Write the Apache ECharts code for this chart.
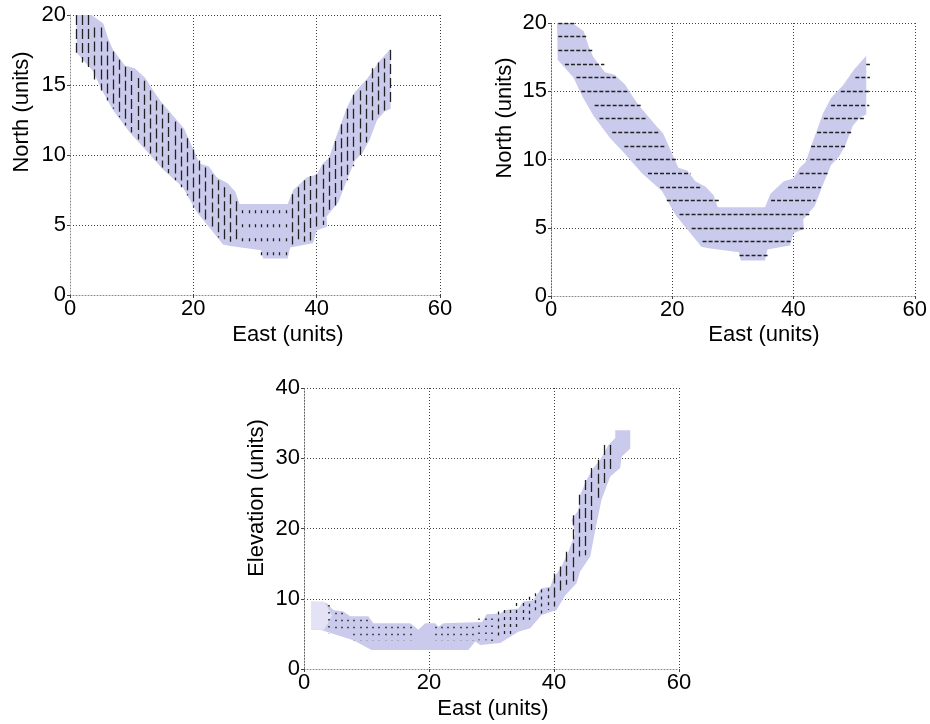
<!DOCTYPE html>
<html><head><meta charset="utf-8">
<script src="https://cdn.jsdelivr.net/npm/echarts@6/dist/echarts.min.js"></script>
<style>html,body{margin:0;padding:0;background:#fff}#c{width:930px;height:724px}</style>
</head><body><div id="c"></div>
<script>
// ---------- axis ticks ----------
const eastTicks = [0, 20, 40, 60];
const northTicks = [0, 5, 10, 15, 20];
const elevTicks = [0, 10, 20, 30, 40];

// ---------- plan-view band (East / North), same footprint in both top panels ----------
const planBandX = [1, 3.5, 5.4, 6.2, 7, 8.9, 10.5, 12.2, 13.5, 14.6, 17.3, 18.5, 20, 21, 22.5, 23.8, 25.5, 26.8, 27.5, 35.3, 36.2, 38.4, 40, 41, 42, 43, 44, 44.9, 46.2, 48.1, 50, 52,
  52, 51, 49.8, 48.6, 47.5, 46.2, 44.9, 43.5, 41.6, 41.7, 40, 39.4, 35.7, 35.3, 31.3, 31, 26, 24.8, 23, 20.6, 18.3, 15, 12.2, 9.7, 7, 5.2, 3.7, 1.1];
const planBandY = [20, 20, 19.4, 18.3, 17.5, 16.4, 16.2, 15.5, 14.6, 13.9, 12.5, 11.9, 10.4, 9.4, 9.2, 8.4, 8.0, 7.4, 6.5, 6.5, 7.5, 8.4, 8.6, 9.4, 9.8, 11.1, 12.3, 13.4, 14.5, 15.4, 16.6, 17.6,
  13.3, 13.1, 12.5, 11.1, 10.2, 9.6, 8.2, 6.6, 5.6, 4.9, 4.6, 3.7, 3.4, 2.6, 2.6, 3.2, 3.5, 3.6, 4.6, 5.9, 7.7, 9.0, 10.4, 11.6, 13.2, 14.6, 16, 17.3];

// ---------- top-left: vertical dashed strokes per East column ----------
const tlDashX  = [1, 2, 3, 4, 5, 6, 7, 8, 9, 10, 11, 12, 13, 14, 15, 16, 17, 18, 19, 20, 21, 22, 23, 24, 25, 26, 27, 36, 37, 38, 39, 40, 41, 42, 43, 44, 45, 46, 47, 48, 49, 50, 51, 52];
const tlDashLo = [17.3, 16.6, 16.1, 15.4, 14.6, 13.9, 13.3, 12.7, 12.1, 11.6, 11.1, 10.6, 10.1, 9.6, 9.1, 8.7, 8.2, 7.7, 7.1, 6.3, 5.7, 5.1, 4.6, 4.1, 3.8, 3.8, 3.8, 3.6, 3.7, 3.8, 3.9, 4.7, 5.0, 6.0, 6.4, 7.2, 8.2, 9.2, 10.0, 10.9, 12.2, 12.7, 13.1, 13.6];
const tlDashHi = [20, 20, 20, 19.1, 19.1, 18.1, 17.4, 16.8, 16.3, 16.0, 15.5, 15.3, 14.6, 13.9, 13.6, 13.0, 12.4, 11.9, 11.2, 10.4, 9.6, 9.1, 8.6, 8.2, 7.7, 7.2, 6.7, 7.2, 7.7, 8.2, 8.5, 8.6, 9.3, 9.8, 11.0, 12.2, 13.3, 14.3, 14.6, 15.3, 16.2, 16.6, 16.9, 17.5];
// valley columns seen end-on (dots)
const tlDotX  = [28, 29, 30, 31, 32, 33, 34, 35];
const tlDotLo = [3.4, 3.3, 3.3, 2.7, 2.7, 2.7, 2.7, 2.7];
const tlDotHi = [6.05, 6.05, 6.05, 6.05, 6.05, 6.05, 6.05, 6.05];

// ---------- top-right: horizontal dashed strokes per North row ----------
const trRowY  = [20, 19, 18, 17, 16, 15, 14, 13, 12, 11, 10, 9, 8, 7, 6, 5, 4, 3, 7, 8, 9, 10, 11, 12, 13, 14, 15, 16, 17];
const trRowX0 = [1.2, 1.2, 1.2, 2.3, 4.2, 5.0, 7.2, 8.0, 10.1, 12.1, 14.0, 16.0, 18.0, 19.1, 21.2, 23.2, 25.0, 31.1, 36.3, 39.1, 41.0, 42.8, 42.9, 43.9, 45.0, 46.2, 47.8, 50.2, 52.0];
const trRowX1 = [3.9, 5.8, 6.8, 8.8, 10.7, 12.8, 14.8, 15.8, 17.8, 18.8, 20.9, 23.0, 24.9, 28.0, 42.6, 41.9, 39.8, 35.9, 43.6, 44.5, 45.6, 46.7, 48.6, 49.6, 51.6, 52.5, 52.5, 52.6, 52.6];

// ---------- bottom: elevation profile band ----------
const elevBandX = [1.2, 3.6, 4.7, 6.3, 7.4, 10.3, 11.1, 17, 18.3, 19.4, 21, 21.5, 22.3, 28.5, 29.2, 31.4, 32.2, 34.3, 35.1, 36.7, 38, 39.4, 39.9, 41.2, 42.3, 43.4, 42.8, 43.9, 44.2, 45.2, 46.3, 47.4, 48.7, 49.8, 49.8, 52.2,
  52.2, 50.8, 50.6, 49, 47.6, 46.6, 45.8, 44.2, 43.6, 41.8, 40.4, 38, 36.2, 34.3, 31.4, 28.2, 27.4, 26.3, 10.8, 7.9, 2.6, 1.2];
const elevBandY = [9.6, 9.4, 8.4, 8.2, 7.5, 7.5, 6.5, 6.5, 5.6, 6.5, 6.5, 6.0, 6.5, 6.7, 7.8, 7.9, 8.4, 8.6, 9.6, 9.8, 11.5, 11.7, 12.9, 14.6, 16.7, 19.3, 21.2, 22.6, 24.8, 26.9, 28.6, 29.8, 31.9, 32.9, 34, 34,
  31.4, 30.2, 28.6, 27.4, 24.1, 19.8, 16, 13.9, 12.2, 10.5, 8.4, 7.7, 5.8, 5.3, 3.7, 3.4, 3.9, 2.7, 2.7, 4.1, 5.6, 5.6];
const elevLightX = [1.2, 3.2, 4.5, 3.2, 1.2];
const elevLightY = [9.6, 9.6, 7.6, 5.6, 5.6];

// bottom: long vertical strokes on the climb
const btDashX  = [40, 41, 42, 43, 44, 45, 46, 47, 48, 49];
const btDashLo = [8.9, 10.8, 12.0, 12.2, 16.0, 16.2, 19.8, 23.8, 26.0, 28.1];
const btDashHi = [13.6, 14.6, 16.7, 21.9, 24.8, 26.9, 28.6, 29.8, 31.9, 31.9];
// bottom: short strokes at the foot of the climb
const btShortX  = [31, 32, 33, 34, 35, 36, 37, 38, 39];
const btShortLo = [4.6, 4.6, 4.8, 5.8, 7.0, 7.0, 7.9, 7.9, 8.4];
const btShortHi = [8.2, 8.4, 8.4, 9.4, 9.4, 10.3, 10.8, 11.3, 11.5];
// bottom: dots on the flat floor
const btDotX  = [4, 5, 6, 7, 8, 9, 10, 11, 12, 13, 14, 15, 16, 17, 21, 22, 23, 24, 25, 26, 27, 28, 29, 30];
const btDotLo = [5.1, 5.1, 5.1, 5.1, 4.0, 4.0, 4.0, 4.0, 4.0, 4.0, 4.0, 4.0, 4.0, 4.0, 4.0, 4.0, 4.0, 4.0, 4.0, 4.0, 4.0, 4.1, 4.1, 3.9];
const btDotHi = [9.1, 8.0, 8.0, 7.0, 7.0, 7.0, 7.0, 6.0, 6.0, 6.0, 6.0, 6.0, 6.0, 6.0, 6.0, 6.0, 6.0, 6.0, 6.0, 6.0, 6.0, 7.2, 7.2, 7.2];

// ---------- builders ----------
const FONT = 'Liberation Sans, Arial, sans-serif';
const FS = 22;
const BAND = '#cacaec';
const INK = '#222';

function makeX(gi) {
  return {
    type: 'value', gridIndex: gi, min: 0, max: 60, interval: 20,
    axisLine: { show: true, onZero: false, lineStyle: { color: '#888', type: [1, 2], width: 1 } },
    axisTick: { show: true, length: 3, lineStyle: { color: '#444' } },
    axisLabel: { color: '#000', fontFamily: FONT, fontSize: FS, margin: 3, customValues: eastTicks },
    splitLine: { show: true, lineStyle: { color: '#444', type: [1, 2], width: 1 } }
  };
}
function makeY(gi, max, interval, ticks) {
  return {
    type: 'value', gridIndex: gi, min: 0, max: max, interval: interval,
    axisLine: { show: true, onZero: false, lineStyle: { color: '#888', type: [1, 2], width: 1 } },
    axisTick: { show: true, length: 3, lineStyle: { color: '#444' } },
    axisLabel: { color: '#000', fontFamily: FONT, fontSize: FS, margin: 4, customValues: ticks },
    splitLine: { show: true, lineStyle: { color: '#444', type: [1, 2], width: 1 } }
  };
}
function band(gi, xs, ys, color) {
  return {
    type: 'custom', xAxisIndex: gi, yAxisIndex: gi, clip: true, silent: true, z: 1,
    data: [[xs[0], ys[0]]],
    renderItem: function (params, api) {
      return { type: 'polygon', shape: { points: xs.map((x, i) => api.coord([x, ys[i]])) },
        style: { fill: color, stroke: null } };
    }
  };
}
function vStrokes(gi, xs, lo, hi, dash, w) {
  return {
    type: 'lines', coordinateSystem: 'cartesian2d', xAxisIndex: gi, yAxisIndex: gi, silent: true, z: 3,
    lineStyle: { color: INK, width: w, type: dash, opacity: 1, cap: 'butt' },
    data: xs.map((x, i) => ({ coords: [[x, hi[i]], [x, lo[i]]] }))
  };
}
function hStrokes(gi, ys, x0, x1, dash, w) {
  return {
    type: 'lines', coordinateSystem: 'cartesian2d', xAxisIndex: gi, yAxisIndex: gi, silent: true, z: 3,
    lineStyle: { color: INK, width: w, type: dash, opacity: 1, cap: 'butt' },
    data: ys.map((y, i) => ({ coords: [[x0[i], y], [x1[i], y]] }))
  };
}
function label(text, x, y, rot) {
  return { type: 'text', x: x, y: y, rotation: rot || 0,
    style: { text: text, fill: '#000', font: FS + 'px ' + FONT, textAlign: 'center', textVerticalAlign: 'middle' } };
}

const chart = echarts.init(document.getElementById('c'));
chart.setOption({
  animation: false,
  backgroundColor: '#fff',
  grid: [
    { left: 70, top: 15, width: 370, height: 280 },
    { left: 551, top: 23, width: 364, height: 273 },
    { left: 304, top: 388, width: 375, height: 281 }
  ],
  xAxis: [makeX(0), makeX(1), makeX(2)],
  yAxis: [makeY(0, 20, 5, northTicks), makeY(1, 20, 5, northTicks), makeY(2, 40, 10, elevTicks)],
  series: [
    band(0, planBandX, planBandY, BAND),
    vStrokes(0, tlDashX, tlDashLo, tlDashHi, [10, 4], 1.3),
    vStrokes(0, tlDotX, tlDotLo, tlDotHi, [3, 11], 1.3),
    band(1, planBandX, planBandY, BAND),
    hStrokes(1, trRowY, trRowX0, trRowX1, [4, 2], 1.3),
    band(2, elevBandX, elevBandY, BAND),
    band(2, elevLightX, elevLightY, '#e3e3f5'),
    vStrokes(2, btDashX, btDashLo, btDashHi, [10, 4], 1.3),
    vStrokes(2, btShortX, btShortLo, btShortHi, [3, 4], 1.3),
    vStrokes(2, btDotX, btDotLo, btDotHi, [1.5, 5.5], 1.5)
  ],
  graphic: [
    label('East (units)', 288, 335),
    label('North (units)', 22, 112, Math.PI / 2),
    label('East (units)', 764, 335),
    label('North (units)', 505, 118, Math.PI / 2),
    label('East (units)', 493, 709),
    label('Elevation (units)', 257, 498, Math.PI / 2)
  ]
});
</script></body></html>
